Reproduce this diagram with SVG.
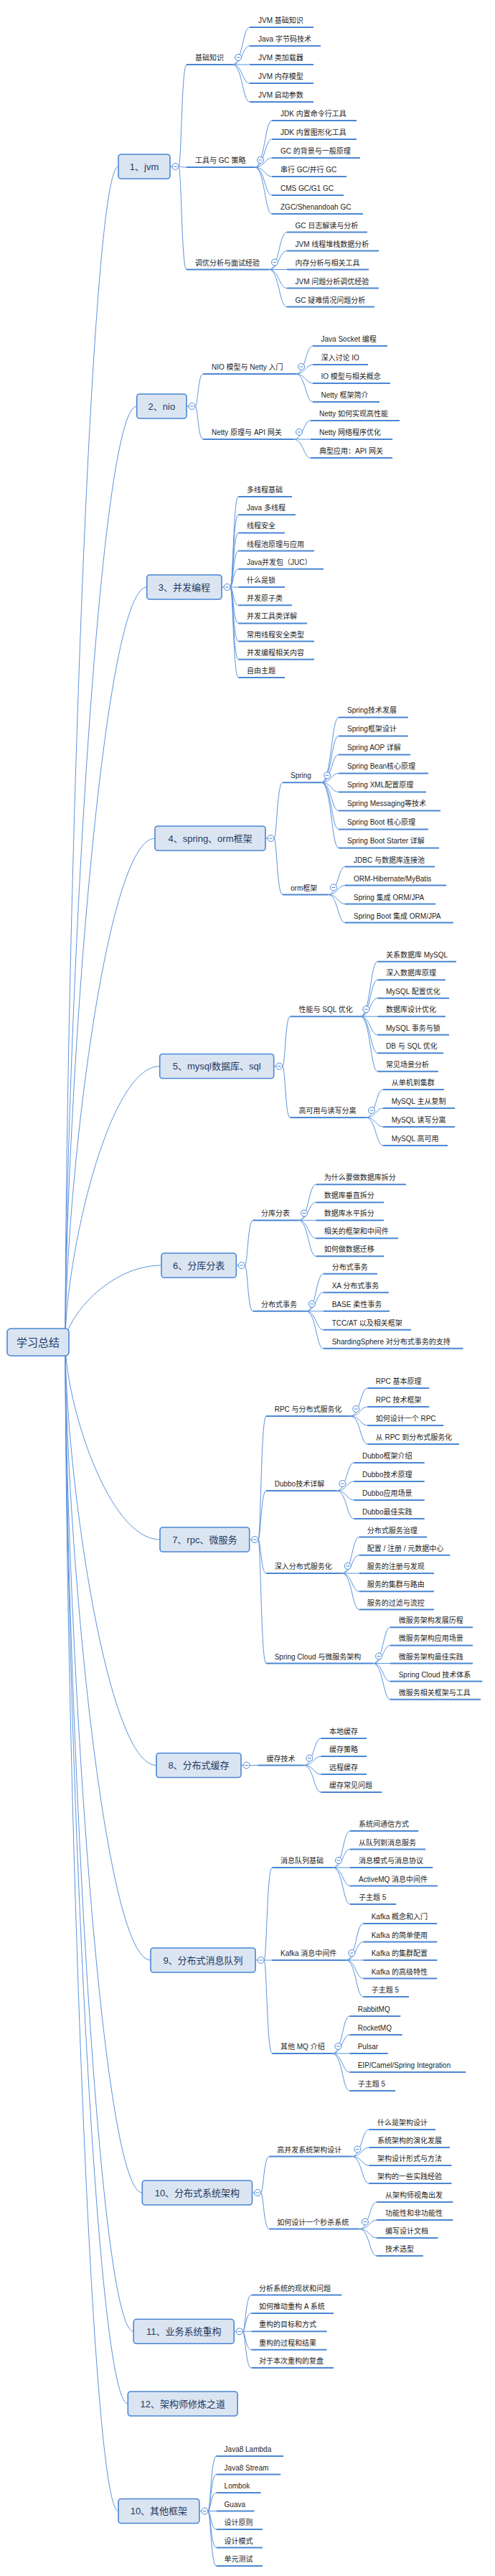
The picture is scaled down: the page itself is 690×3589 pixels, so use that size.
<svg xmlns="http://www.w3.org/2000/svg" xmlns:xlink="http://www.w3.org/1999/xlink" width="690" height="3589" viewBox="0 0 690 3589">
<style>
.c{fill:none;stroke:#5b93dc;stroke-width:1}
.u{fill:none;stroke:#4a86d4;stroke-width:2}
.t{font-family:"Liberation Sans","Noto Sans CJK SC",sans-serif;font-size:10px;fill:#1e1e1e}
.m rect{fill:#dbe5f2;stroke:#4a86d4;stroke-width:1.6}
.m text{font-family:"Liberation Sans","Noto Sans CJK SC",sans-serif;font-size:13px;fill:#1f3961;text-anchor:middle}
.r rect{fill:#dbe5f2;stroke:#4a86d4;stroke-width:1.6}
.r text{font-family:"Liberation Sans","Noto Sans CJK SC",sans-serif;font-size:15px;fill:#1f3961;text-anchor:middle}
</style>
<defs>
<g id="cm"><circle r="4.5" fill="#fff" stroke="#4a86d4" stroke-width="1"/><path d="M-2.4 0H2.4" stroke="#4a86d4" stroke-width="1"/></g>
</defs>
<rect width="690" height="3589" fill="#fff"/>
<g id="connectors" class="c">
<path d="M91 1870C91 1378.6 124.3 232 165 232M91 1870C91 1478.8 135.9 566 190.7 566M91 1870C91 1554.4 142.2 818 204.7 818M91 1870C91 1659.4 147.3 1168 216 1168M91 1870C91 1754.7 150.3 1485.5 222.7 1485.5M91 1870C91 1837.9 151.3 1763 225 1763M91 1870C91 1952.5 150.4 2145 223 2145M91 1870C91 2046.9 148.2 2459.5 218 2459.5M91 1870C91 2128.3 144.6 2731 210 2731M91 1870C91 2225.5 139.3 3055 198.3 3055M91 1870C91 2283.5 133.8 3248.3 186.2 3248.3M91 1870C91 2313.7 130.3 3349 178.3 3349M91 1870C91 2358.6 124.3 3498.5 165 3498.5"/>
<path d="M237 232H240M249 232C253 232 253 90 260 90M249 232C253 232 253 233 260 233M249 232C253 232 253 375.5 260 375.5"/>
<path d="M324 90C338 90 338 38 348 38M324 90C338 90 338 64 348 64M324 90H348M324 90C338 90 338 116 348 116M324 90C338 90 338 142 348 142"/>
<path d="M355 233C369 233 369 168 379 168M355 233C369 233 369 194 379 194M355 233C369 233 369 220 379 220M355 233C369 233 369 246 379 246M355 233C369 233 369 272 379 272M355 233C369 233 369 298 379 298"/>
<path d="M375 375.5C389 375.5 389 323.5 400 323.5M375 375.5C389 375.5 389 349.5 400 349.5M375 375.5H400M375 375.5C389 375.5 389 401.5 400 401.5M375 375.5C389 375.5 389 427.5 400 427.5"/>
<path d="M260 566H263M272 566C276 566 276 521 283 521M272 566C276 566 276 612 283 612"/>
<path d="M412 521C426 521 426 482 436 482M412 521C426 521 426 508 436 508M412 521C426 521 426 534 436 534M412 521C426 521 426 560 436 560"/>
<path d="M409 612C423 612 423 586 433 586M409 612H433M409 612C423 612 423 638 433 638"/>
<path d="M309 818H312M321 818C325 818 325 692 332.3 692M321 818C325 818 325 717.2 332.3 717.2M321 818C325 818 325 742.4 332.3 742.4M321 818C325 818 325 767.6 332.3 767.6M321 818C325 818 325 792.8 332.3 792.8M321 818H332.3M321 818C325 818 325 843.2 332.3 843.2M321 818C325 818 325 868.4 332.3 868.4M321 818C325 818 325 893.6 332.3 893.6M321 818C325 818 325 918.8 332.3 918.8M321 818C325 818 325 944 332.3 944"/>
<path d="M370 1168H373M382 1168C386 1168 386 1090.3 394 1090.3M382 1168C386 1168 386 1246.5 394 1246.5"/>
<path d="M448 1090.3C462 1090.3 462 999.4 472 999.4M448 1090.3C462 1090.3 462 1025.4 472 1025.4M448 1090.3C462 1090.3 462 1051.4 472 1051.4M448 1090.3C462 1090.3 462 1077.4 472 1077.4M448 1090.3C462 1090.3 462 1103.4 472 1103.4M448 1090.3C462 1090.3 462 1129.4 472 1129.4M448 1090.3C462 1090.3 462 1155.4 472 1155.4M448 1090.3C462 1090.3 462 1181.4 472 1181.4"/>
<path d="M457 1246.5C471 1246.5 471 1207.5 481 1207.5M457 1246.5C471 1246.5 471 1233.5 481 1233.5M457 1246.5C471 1246.5 471 1259.5 481 1259.5M457 1246.5C471 1246.5 471 1285.5 481 1285.5"/>
<path d="M381.7 1485.5H384.7M393.7 1485.5C397.7 1485.5 397.7 1416.2 404.3 1416.2M393.7 1485.5C397.7 1485.5 397.7 1557 404.3 1557"/>
<path d="M502.3 1416.2C516.3 1416.2 516.3 1339.7 526.3 1339.7M502.3 1416.2C516.3 1416.2 516.3 1365.2 526.3 1365.2M502.3 1416.2C516.3 1416.2 516.3 1390.7 526.3 1390.7M502.3 1416.2H526.3M502.3 1416.2C516.3 1416.2 516.3 1441.7 526.3 1441.7M502.3 1416.2C516.3 1416.2 516.3 1467.2 526.3 1467.2M502.3 1416.2C516.3 1416.2 516.3 1492.7 526.3 1492.7"/>
<path d="M510 1557C524 1557 524 1518 534 1518M510 1557C524 1557 524 1544 534 1544M510 1557C524 1557 524 1570 534 1570M510 1557C524 1557 524 1596 534 1596"/>
<path d="M329.3 1763H332.3M341.3 1763C345.3 1763 345.3 1700.3 352.5 1700.3M341.3 1763C345.3 1763 345.3 1826.8 352.5 1826.8"/>
<path d="M416 1700.3C430 1700.3 430 1650.3 440.5 1650.3M416 1700.3C430 1700.3 430 1675.3 440.5 1675.3M416 1700.3H440.5M416 1700.3C430 1700.3 430 1725.3 440.5 1725.3M416 1700.3C430 1700.3 430 1750.3 440.5 1750.3"/>
<path d="M426.7 1826.8C440.7 1826.8 440.7 1774.8 450.7 1774.8M426.7 1826.8C440.7 1826.8 440.7 1800.8 450.7 1800.8M426.7 1826.8H450.7M426.7 1826.8C440.7 1826.8 440.7 1852.8 450.7 1852.8M426.7 1826.8C440.7 1826.8 440.7 1878.8 450.7 1878.8"/>
<path d="M347.7 2145H350.7M359.7 2145C363.7 2145 363.7 1973 371 1973M359.7 2145C363.7 2145 363.7 2077 371 2077M359.7 2145C363.7 2145 363.7 2192 371 2192M359.7 2145C363.7 2145 363.7 2317.5 371 2317.5"/>
<path d="M488.3 1973C502.3 1973 502.3 1934 512.3 1934M488.3 1973C502.3 1973 502.3 1960 512.3 1960M488.3 1973C502.3 1973 502.3 1986 512.3 1986M488.3 1973C502.3 1973 502.3 2012 512.3 2012"/>
<path d="M469.3 2077C483.3 2077 483.3 2038 493.3 2038M469.3 2077C483.3 2077 483.3 2064 493.3 2064M469.3 2077C483.3 2077 483.3 2090 493.3 2090M469.3 2077C483.3 2077 483.3 2116 493.3 2116"/>
<path d="M476.7 2192C490.7 2192 490.7 2141.5 500.7 2141.5M476.7 2192C490.7 2192 490.7 2166.8 500.7 2166.8M476.7 2192H500.7M476.7 2192C490.7 2192 490.7 2217.3 500.7 2217.3M476.7 2192C490.7 2192 490.7 2242.5 500.7 2242.5"/>
<path d="M520 2317.5C534 2317.5 534 2267.3 544 2267.3M520 2317.5C534 2317.5 534 2292.4 544 2292.4M520 2317.5H544M520 2317.5C534 2317.5 534 2342.6 544 2342.6M520 2317.5C534 2317.5 534 2367.7 544 2367.7"/>
<path d="M336 2459.5H360"/>
<path d="M423.3 2459.5C437.3 2459.5 437.3 2422 447.3 2422M423.3 2459.5C437.3 2459.5 437.3 2447 447.3 2447M423.3 2459.5C437.3 2459.5 437.3 2472 447.3 2472M423.3 2459.5C437.3 2459.5 437.3 2497 447.3 2497"/>
<path d="M356 2731H359M368 2731C372 2731 372 2602 379.3 2602M368 2731H379.3M368 2731C372 2731 372 2861 379.3 2861"/>
<path d="M464 2602C478 2602 478 2551 488 2551M464 2602C478 2602 478 2576.5 488 2576.5M464 2602H488M464 2602C478 2602 478 2627.5 488 2627.5M464 2602C478 2602 478 2653 488 2653"/>
<path d="M482.3 2731C496.3 2731 496.3 2680 506.3 2680M482.3 2731C496.3 2731 496.3 2705.5 506.3 2705.5M482.3 2731H506.3M482.3 2731C496.3 2731 496.3 2756.5 506.3 2756.5M482.3 2731C496.3 2731 496.3 2782 506.3 2782"/>
<path d="M463.3 2861C477.3 2861 477.3 2809 487.3 2809M463.3 2861C477.3 2861 477.3 2835 487.3 2835M463.3 2861H487.3M463.3 2861C477.3 2861 477.3 2887 487.3 2887M463.3 2861C477.3 2861 477.3 2913 487.3 2913"/>
<path d="M351.5 3055H354.5M363.5 3055C367.5 3055 367.5 3004.5 375.3 3004.5M363.5 3055C367.5 3055 367.5 3105.5 375.3 3105.5"/>
<path d="M490.3 3004.5C504.3 3004.5 504.3 2967 514.3 2967M490.3 3004.5C504.3 3004.5 504.3 2992 514.3 2992M490.3 3004.5C504.3 3004.5 504.3 3017 514.3 3017M490.3 3004.5C504.3 3004.5 504.3 3042 514.3 3042"/>
<path d="M500.9 3105.5C515 3105.5 515 3068 525 3068M500.9 3105.5C515 3105.5 515 3093 525 3093M500.9 3105.5C515 3105.5 515 3118 525 3118M500.9 3105.5C515 3105.5 515 3143 525 3143"/>
<path d="M326.2 3248.3H329.2M338.2 3248.3C342.2 3248.3 342.2 3197.5 350.4 3197.5M338.2 3248.3C342.2 3248.3 342.2 3222.9 350.4 3222.9M338.2 3248.3H350.4M338.2 3248.3C342.2 3248.3 342.2 3273.7 350.4 3273.7M338.2 3248.3C342.2 3248.3 342.2 3299.1 350.4 3299.1"/>
<path d="M277.8 3498.5H280.8M289.8 3498.5C293.8 3498.5 293.8 3422 301.6 3422M289.8 3498.5C293.8 3498.5 293.8 3447.5 301.6 3447.5M289.8 3498.5C293.8 3498.5 293.8 3473 301.6 3473M289.8 3498.5H301.6M289.8 3498.5C293.8 3498.5 293.8 3524 301.6 3524M289.8 3498.5C293.8 3498.5 293.8 3549.5 301.6 3549.5M289.8 3498.5C293.8 3498.5 293.8 3575 301.6 3575"/>
</g>

<g id="root" class="r"><rect x="10" y="1851" width="86" height="38" rx="5"/><text x="53" y="1875.5">学习总结</text></g>

<!-- Branch 1 -->
<g id="n1" class="m"><rect x="165" y="215" width="72" height="34" rx="4"/><text x="201" y="236.5">1、jvm</text><use href="#cm" x="244.5" y="232"/></g>
<g id="n1-1"><path class="u" d="M260 90H324"/><text class="t" x="272" y="84">基础知识</text><use href="#cm" x="332" y="80"/></g>
<g id="n1-1-1"><path class="u" d="M348 38H437"/><text class="t" x="360" y="32">JVM 基础知识</text></g>
<g id="n1-1-2"><path class="u" d="M348 64H447"/><text class="t" x="360" y="58">Java 字节码技术</text></g>
<g id="n1-1-3"><path class="u" d="M348 90H437"/><text class="t" x="360" y="84">JVM 类加载器</text></g>
<g id="n1-1-4"><path class="u" d="M348 116H437"/><text class="t" x="360" y="110">JVM 内存模型</text></g>
<g id="n1-1-5"><path class="u" d="M348 142H437"/><text class="t" x="360" y="136">JVM 启动参数</text></g>
<g id="n1-2"><path class="u" d="M260 233H355"/><text class="t" x="272" y="227">工具与 GC 策略</text><use href="#cm" x="363" y="223"/></g>
<g id="n1-2-1"><path class="u" d="M379 168H497"/><text class="t" x="391" y="162">JDK 内置命令行工具</text></g>
<g id="n1-2-2"><path class="u" d="M379 194H497"/><text class="t" x="391" y="188">JDK 内置图形化工具</text></g>
<g id="n1-2-3"><path class="u" d="M379 220H502"/><text class="t" x="391" y="214">GC 的背景与一般原理</text></g>
<g id="n1-2-4"><path class="u" d="M379 246H483"/><text class="t" x="391" y="240">串行 GC/并行 GC</text></g>
<g id="n1-2-5"><path class="u" d="M379 272H479"/><text class="t" x="391" y="266">CMS GC/G1 GC</text></g>
<g id="n1-2-6"><path class="u" d="M379 298H506"/><text class="t" x="391" y="292">ZGC/Shenandoah GC</text></g>
<g id="n1-3"><path class="u" d="M260 375.5H375"/><text class="t" x="272" y="369.5">调优分析与面试经验</text><use href="#cm" x="383" y="365.5"/></g>
<g id="n1-3-1"><path class="u" d="M400 323.5H512"/><text class="t" x="411.5" y="317.5">GC 日志解读与分析</text></g>
<g id="n1-3-2"><path class="u" d="M400 349.5H528"/><text class="t" x="411.5" y="343.5">JVM 线程堆栈数据分析</text></g>
<g id="n1-3-3"><path class="u" d="M400 375.5H514"/><text class="t" x="411.5" y="369.5">内存分析与相关工具</text></g>
<g id="n1-3-4"><path class="u" d="M400 401.5H528"/><text class="t" x="411.5" y="395.5">JVM 问题分析调优经验</text></g>
<g id="n1-3-5"><path class="u" d="M400 427.5H522"/><text class="t" x="411.5" y="421.5">GC 疑难情况问题分析</text></g>

<!-- Branch 2 -->
<g id="n2" class="m"><rect x="190.7" y="549" width="69.3" height="34" rx="4"/><text x="225.4" y="570.5">2、nio</text><use href="#cm" x="267.5" y="566"/></g>
<g id="n2-1"><path class="u" d="M283 521H412"/><text class="t" x="295" y="515">NIO 模型与 Netty 入门</text><use href="#cm" x="420" y="511"/></g>
<g id="n2-1-1"><path class="u" d="M436 482H540"/><text class="t" x="447.5" y="476">Java Socket 编程</text></g>
<g id="n2-1-2"><path class="u" d="M436 508H513"/><text class="t" x="447.5" y="502">深入讨论 IO</text></g>
<g id="n2-1-3"><path class="u" d="M436 534H544"/><text class="t" x="447.5" y="528">IO 模型与相关概念</text></g>
<g id="n2-1-4"><path class="u" d="M436 560H529"/><text class="t" x="447.5" y="554">Netty 框架简介</text></g>
<g id="n2-2"><path class="u" d="M283 612H409"/><text class="t" x="295" y="606">Netty 原理与 API 网关</text><use href="#cm" x="417" y="602"/></g>
<g id="n2-2-1"><path class="u" d="M433 586H557"/><text class="t" x="445" y="580">Netty 如何实现高性能</text></g>
<g id="n2-2-2"><path class="u" d="M433 612H547"/><text class="t" x="445" y="606">Netty 网络程序优化</text></g>
<g id="n2-2-3"><path class="u" d="M433 638H547"/><text class="t" x="445" y="632">典型应用：API 网关</text></g>

<!-- Branch 3 -->
<g id="n3" class="m"><rect x="204.7" y="801" width="104.3" height="34" rx="4"/><text x="256.9" y="822.5">3、并发编程</text><use href="#cm" x="316.5" y="818"/></g>
<g id="n3-1"><path class="u" d="M332.3 692H407"/><text class="t" x="344" y="686">多线程基础</text></g>
<g id="n3-2"><path class="u" d="M332.3 717.2H412"/><text class="t" x="344" y="711.2">Java 多线程</text></g>
<g id="n3-3"><path class="u" d="M332.3 742.4H397"/><text class="t" x="344" y="736.4">线程安全</text></g>
<g id="n3-4"><path class="u" d="M332.3 767.6H438"/><text class="t" x="344" y="761.6">线程池原理与应用</text></g>
<g id="n3-5"><path class="u" d="M332.3 792.8H451"/><text class="t" x="344" y="786.8">Java并发包（JUC）</text></g>
<g id="n3-6"><path class="u" d="M332.3 818H397"/><text class="t" x="344" y="812">什么是锁</text></g>
<g id="n3-7"><path class="u" d="M332.3 843.2H407"/><text class="t" x="344" y="837.2">并发原子类</text></g>
<g id="n3-8"><path class="u" d="M332.3 868.4H428"/><text class="t" x="344" y="862.4">并发工具类详解</text></g>
<g id="n3-9"><path class="u" d="M332.3 893.6H438"/><text class="t" x="344" y="887.6">常用线程安全类型</text></g>
<g id="n3-10"><path class="u" d="M332.3 918.8H438"/><text class="t" x="344" y="912.8">并发编程相关内容</text></g>
<g id="n3-11"><path class="u" d="M332.3 944H397"/><text class="t" x="344" y="938">自由主题</text></g>

<!-- Branch 4 -->
<g id="n4" class="m"><rect x="216" y="1151" width="154" height="34" rx="4"/><text x="293" y="1172.5">4、spring、orm框架</text><use href="#cm" x="377.5" y="1168"/></g>
<g id="n4-1"><path class="u" d="M394 1090.3H448"/><text class="t" x="405" y="1084.3">Spring</text><use href="#cm" x="456" y="1080.3"/></g>
<g id="n4-1-1"><path class="u" d="M472 999.4H569"/><text class="t" x="484" y="993.4">Spring技术发展</text></g>
<g id="n4-1-2"><path class="u" d="M472 1025.4H569"/><text class="t" x="484" y="1019.4">Spring框架设计</text></g>
<g id="n4-1-3"><path class="u" d="M472 1051.4H572"/><text class="t" x="484" y="1045.4">Spring AOP 详解</text></g>
<g id="n4-1-4"><path class="u" d="M472 1077.4H597"/><text class="t" x="484" y="1071.4">Spring Bean核心原理</text></g>
<g id="n4-1-5"><path class="u" d="M472 1103.4H594"/><text class="t" x="484" y="1097.4">Spring XML配置原理</text></g>
<g id="n4-1-6"><path class="u" d="M472 1129.4H614"/><text class="t" x="484" y="1123.4">Spring Messaging等技术</text></g>
<g id="n4-1-7"><path class="u" d="M472 1155.4H597"/><text class="t" x="484" y="1149.4">Spring Boot 核心原理</text></g>
<g id="n4-1-8"><path class="u" d="M472 1181.4H612"/><text class="t" x="484" y="1175.4">Spring Boot Starter 详解</text></g>
<g id="n4-2"><path class="u" d="M394 1246.5H457"/><text class="t" x="405" y="1240.5">orm框架</text><use href="#cm" x="465" y="1236.5"/></g>
<g id="n4-2-1"><path class="u" d="M481 1207.5H606"/><text class="t" x="493" y="1201.5">JDBC 与数据库连接池</text></g>
<g id="n4-2-2"><path class="u" d="M481 1233.5H622"/><text class="t" x="493" y="1227.5">ORM-Hibernate/MyBatis</text></g>
<g id="n4-2-3"><path class="u" d="M481 1259.5H607"/><text class="t" x="493" y="1253.5">Spring 集成 ORM/JPA</text></g>
<g id="n4-2-4"><path class="u" d="M481 1285.5H632"/><text class="t" x="493" y="1279.5">Spring Boot 集成 ORM/JPA</text></g>

<!-- Branch 5 -->
<g id="n5" class="m"><rect x="222.7" y="1468.5" width="159" height="34" rx="4"/><text x="302.2" y="1490">5、mysql数据库、sql</text><use href="#cm" x="389.2" y="1485.5"/></g>
<g id="n5-1"><path class="u" d="M404.3 1416.2H502.3"/><text class="t" x="416.5" y="1410.2">性能与 SQL 优化</text><use href="#cm" x="510.3" y="1406.2"/></g>
<g id="n5-1-1"><path class="u" d="M526.3 1339.7H636"/><text class="t" x="538" y="1333.7">关系数据库 MySQL</text></g>
<g id="n5-1-2"><path class="u" d="M526.3 1365.2H621"/><text class="t" x="538" y="1359.2">深入数据库原理</text></g>
<g id="n5-1-3"><path class="u" d="M526.3 1390.7H626"/><text class="t" x="538" y="1384.7">MySQL 配置优化</text></g>
<g id="n5-1-4"><path class="u" d="M526.3 1416.2H621"/><text class="t" x="538" y="1410.2">数据库设计优化</text></g>
<g id="n5-1-5"><path class="u" d="M526.3 1441.7H626"/><text class="t" x="538" y="1435.7">MySQL 事务与锁</text></g>
<g id="n5-1-6"><path class="u" d="M526.3 1467.2H618"/><text class="t" x="538" y="1461.2">DB 与 SQL 优化</text></g>
<g id="n5-1-7"><path class="u" d="M526.3 1492.7H611"/><text class="t" x="538" y="1486.7">常见场景分析</text></g>
<g id="n5-2"><path class="u" d="M404.3 1557H510"/><text class="t" x="416.5" y="1551">高可用与读写分离</text><use href="#cm" x="518" y="1547"/></g>
<g id="n5-2-1"><path class="u" d="M534 1518H619"/><text class="t" x="545.7" y="1512">从单机到集群</text></g>
<g id="n5-2-2"><path class="u" d="M534 1544H634"/><text class="t" x="545.7" y="1538">MySQL 主从复制</text></g>
<g id="n5-2-3"><path class="u" d="M534 1570H634"/><text class="t" x="545.7" y="1564">MySQL 读写分离</text></g>
<g id="n5-2-4"><path class="u" d="M534 1596H624"/><text class="t" x="545.7" y="1590">MySQL 高可用</text></g>

<!-- Branch 6 -->
<g id="n6" class="m"><rect x="225" y="1746" width="104.3" height="34" rx="4"/><text x="277.2" y="1767.5">6、分库分表</text><use href="#cm" x="336.8" y="1763"/></g>
<g id="n6-1"><path class="u" d="M352.5 1700.3H416"/><text class="t" x="364" y="1694.3">分库分表</text><use href="#cm" x="424" y="1690.3"/></g>
<g id="n6-1-1"><path class="u" d="M440.5 1650.3H566"/><text class="t" x="451.7" y="1644.3">为什么要做数据库拆分</text></g>
<g id="n6-1-2"><path class="u" d="M440.5 1675.3H535"/><text class="t" x="451.7" y="1669.3">数据库垂直拆分</text></g>
<g id="n6-1-3"><path class="u" d="M440.5 1700.3H535"/><text class="t" x="451.7" y="1694.3">数据库水平拆分</text></g>
<g id="n6-1-4"><path class="u" d="M440.5 1725.3H555"/><text class="t" x="451.7" y="1719.3">相关的框架和中间件</text></g>
<g id="n6-1-5"><path class="u" d="M440.5 1750.3H535"/><text class="t" x="451.7" y="1744.3">如何做数据迁移</text></g>
<g id="n6-2"><path class="u" d="M352.5 1826.8H426.7"/><text class="t" x="364" y="1820.8">分布式事务</text><use href="#cm" x="434.7" y="1816.8"/></g>
<g id="n6-2-1"><path class="u" d="M450.7 1774.8H526"/><text class="t" x="462.7" y="1768.8">分布式事务</text></g>
<g id="n6-2-2"><path class="u" d="M450.7 1800.8H541.7"/><text class="t" x="462.7" y="1794.8">XA 分布式事务</text></g>
<g id="n6-2-3"><path class="u" d="M450.7 1826.8H543"/><text class="t" x="462.7" y="1820.8">BASE 柔性事务</text></g>
<g id="n6-2-4"><path class="u" d="M450.7 1852.8H573"/><text class="t" x="462.7" y="1846.8">TCC/AT 以及相关框架</text></g>
<g id="n6-2-5"><path class="u" d="M450.7 1878.8H645.7"/><text class="t" x="462.7" y="1872.8">ShardingSphere 对分布式事务的支持</text></g>

<!-- Branch 7 -->
<g id="n7" class="m"><rect x="223" y="2128" width="124.7" height="34" rx="4"/><text x="285.3" y="2149.5">7、rpc、微服务</text><use href="#cm" x="355.2" y="2145"/></g>
<g id="n7-1"><path class="u" d="M371 1973H488.3"/><text class="t" x="382.7" y="1967">RPC 与分布式服务化</text><use href="#cm" x="496.3" y="1963"/></g>
<g id="n7-1-1"><path class="u" d="M512.3 1934H598.3"/><text class="t" x="523.7" y="1928">RPC 基本原理</text></g>
<g id="n7-1-2"><path class="u" d="M512.3 1960H598.3"/><text class="t" x="523.7" y="1954">RPC 技术框架</text></g>
<g id="n7-1-3"><path class="u" d="M512.3 1986H618.3"/><text class="t" x="523.7" y="1980">如何设计一个 RPC</text></g>
<g id="n7-1-4"><path class="u" d="M512.3 2012H640"/><text class="t" x="523.7" y="2006">从 RPC 到分布式服务化</text></g>
<g id="n7-2"><path class="u" d="M371 2077H469.3"/><text class="t" x="382.7" y="2071">Dubbo技术详解</text><use href="#cm" x="477.3" y="2067"/></g>
<g id="n7-2-1"><path class="u" d="M493.3 2038H591.7"/><text class="t" x="505" y="2032">Dubbo框架介绍</text></g>
<g id="n7-2-2"><path class="u" d="M493.3 2064H591.7"/><text class="t" x="505" y="2058">Dubbo技术原理</text></g>
<g id="n7-2-3"><path class="u" d="M493.3 2090H591.7"/><text class="t" x="505" y="2084">Dubbo应用场景</text></g>
<g id="n7-2-4"><path class="u" d="M493.3 2116H591.7"/><text class="t" x="505" y="2110">Dubbo最佳实践</text></g>
<g id="n7-3"><path class="u" d="M371 2192H476.7"/><text class="t" x="382.7" y="2186">深入分布式服务化</text><use href="#cm" x="484.7" y="2182"/></g>
<g id="n7-3-1"><path class="u" d="M500.7 2141.5H595"/><text class="t" x="511.7" y="2135.5">分布式服务治理</text></g>
<g id="n7-3-2"><path class="u" d="M500.7 2166.8H627.3"/><text class="t" x="511.7" y="2160.8">配置 / 注册 / 元数据中心</text></g>
<g id="n7-3-3"><path class="u" d="M500.7 2192H605"/><text class="t" x="511.7" y="2186">服务的注册与发现</text></g>
<g id="n7-3-4"><path class="u" d="M500.7 2217.3H605"/><text class="t" x="511.7" y="2211.3">服务的集群与路由</text></g>
<g id="n7-3-5"><path class="u" d="M500.7 2242.5H605"/><text class="t" x="511.7" y="2236.5">服务的过滤与流控</text></g>
<g id="n7-4"><path class="u" d="M371 2317.5H520"/><text class="t" x="382.7" y="2311.5">Spring Cloud 与微服务架构</text><use href="#cm" x="528" y="2307.5"/></g>
<g id="n7-4-1"><path class="u" d="M544 2267.3H659"/><text class="t" x="555.7" y="2261.3">微服务架构发展历程</text></g>
<g id="n7-4-2"><path class="u" d="M544 2292.4H659"/><text class="t" x="555.7" y="2286.4">微服务架构应用场景</text></g>
<g id="n7-4-3"><path class="u" d="M544 2317.5H659"/><text class="t" x="555.7" y="2311.5">微服务架构最佳实践</text></g>
<g id="n7-4-4"><path class="u" d="M544 2342.6H672.3"/><text class="t" x="555.7" y="2336.6">Spring Cloud 技术体系</text></g>
<g id="n7-4-5"><path class="u" d="M544 2367.7H670"/><text class="t" x="555.7" y="2361.7">微服务相关框架与工具</text></g>

<!-- Branch 8 -->
<g id="n8" class="m"><rect x="218" y="2442.5" width="118" height="34" rx="4"/><text x="277" y="2464">8、分布式缓存</text><use href="#cm" x="343.5" y="2459.5"/></g>
<g id="n8-1"><path class="u" d="M360 2459.5H423.3"/><text class="t" x="371.5" y="2453.5">缓存技术</text><use href="#cm" x="431.3" y="2449.5"/></g>
<g id="n8-1-1"><path class="u" d="M447.3 2422H511"/><text class="t" x="459" y="2416">本地缓存</text></g>
<g id="n8-1-2"><path class="u" d="M447.3 2447H511"/><text class="t" x="459" y="2441">缓存策略</text></g>
<g id="n8-1-3"><path class="u" d="M447.3 2472H511"/><text class="t" x="459" y="2466">远程缓存</text></g>
<g id="n8-1-4"><path class="u" d="M447.3 2497H532.3"/><text class="t" x="459" y="2491">缓存常见问题</text></g>

<!-- Branch 9 -->
<g id="n9" class="m"><rect x="210" y="2714" width="146" height="34" rx="4"/><text x="283" y="2735.5">9、分布式消息队列</text><use href="#cm" x="363.5" y="2731"/></g>
<g id="n9-1"><path class="u" d="M379.3 2602H464"/><text class="t" x="391" y="2596">消息队列基础</text><use href="#cm" x="472" y="2592"/></g>
<g id="n9-1-1"><path class="u" d="M488 2551H583.3"/><text class="t" x="500" y="2545">系统间通信方式</text></g>
<g id="n9-1-2"><path class="u" d="M488 2576.5H593.3"/><text class="t" x="500" y="2570.5">从队列到消息服务</text></g>
<g id="n9-1-3"><path class="u" d="M488 2602H603.3"/><text class="t" x="500" y="2596">消息模式与消息协议</text></g>
<g id="n9-1-4"><path class="u" d="M488 2627.5H610"/><text class="t" x="500" y="2621.5">ActiveMQ 消息中间件</text></g>
<g id="n9-1-5"><path class="u" d="M488 2653H552.3"/><text class="t" x="500" y="2647">子主题 5</text></g>
<g id="n9-2"><path class="u" d="M379.3 2731H482.3"/><text class="t" x="391" y="2725">Kafka 消息中间件</text><use href="#cm" x="490.3" y="2721"/></g>
<g id="n9-2-1"><path class="u" d="M506.3 2680H609.3"/><text class="t" x="517.7" y="2674">Kafka 概念和入门</text></g>
<g id="n9-2-2"><path class="u" d="M506.3 2705.5H609.3"/><text class="t" x="517.7" y="2699.5">Kafka 的简单使用</text></g>
<g id="n9-2-3"><path class="u" d="M506.3 2731H609.3"/><text class="t" x="517.7" y="2725">Kafka 的集群配置</text></g>
<g id="n9-2-4"><path class="u" d="M506.3 2756.5H609.3"/><text class="t" x="517.7" y="2750.5">Kafka 的高级特性</text></g>
<g id="n9-2-5"><path class="u" d="M506.3 2782H570"/><text class="t" x="517.7" y="2776">子主题 5</text></g>
<g id="n9-3"><path class="u" d="M379.3 2861H463.3"/><text class="t" x="391" y="2855">其他 MQ 介绍</text><use href="#cm" x="471.3" y="2851"/></g>
<g id="n9-3-1"><path class="u" d="M487.3 2809H558.3"/><text class="t" x="498.7" y="2803">RabbitMQ</text></g>
<g id="n9-3-2"><path class="u" d="M487.3 2835H560.7"/><text class="t" x="498.7" y="2829">RocketMQ</text></g>
<g id="n9-3-3"><path class="u" d="M487.3 2861H540.7"/><text class="t" x="498.7" y="2855">Pulsar</text></g>
<g id="n9-3-4"><path class="u" d="M487.3 2887H649.3"/><text class="t" x="498.7" y="2881">EIP/Camel/Spring Integration</text></g>
<g id="n9-3-5"><path class="u" d="M487.3 2913H551"/><text class="t" x="498.7" y="2907">子主题 5</text></g>

<!-- Branch 10 -->
<g id="n10" class="m"><rect x="198.3" y="3038" width="153.2" height="34" rx="4"/><text x="274.9" y="3059.5">10、分布式系统架构</text><use href="#cm" x="359" y="3055"/></g>
<g id="n10-1"><path class="u" d="M375.3 3004.5H490.3"/><text class="t" x="386.3" y="2998.5">高并发系统架构设计</text><use href="#cm" x="498.3" y="2994.5"/></g>
<g id="n10-1-1"><path class="u" d="M514.3 2967H607"/><text class="t" x="526" y="2961">什么是架构设计</text></g>
<g id="n10-1-2"><path class="u" d="M514.3 2992H627"/><text class="t" x="526" y="2986">系统架构的演化发展</text></g>
<g id="n10-1-3"><path class="u" d="M514.3 3017H629.5"/><text class="t" x="526" y="3011">架构设计形式与方法</text></g>
<g id="n10-1-4"><path class="u" d="M514.3 3042H629.5"/><text class="t" x="526" y="3036">架构的一些实践经验</text></g>
<g id="n10-2"><path class="u" d="M375.3 3105.5H500.9"/><text class="t" x="386.3" y="3099.5">如何设计一个秒杀系统</text><use href="#cm" x="508.9" y="3095.5"/></g>
<g id="n10-2-1"><path class="u" d="M525 3068H631.4"/><text class="t" x="537" y="3062">从架构师视角出发</text></g>
<g id="n10-2-2"><path class="u" d="M525 3093H631.4"/><text class="t" x="537" y="3087">功能性和非功能性</text></g>
<g id="n10-2-3"><path class="u" d="M525 3118H610.6"/><text class="t" x="537" y="3112">编写设计文档</text></g>
<g id="n10-2-4"><path class="u" d="M525 3143H589.8"/><text class="t" x="537" y="3137">技术选型</text></g>

<!-- Branch 11 -->
<g id="n11" class="m"><rect x="186.2" y="3231.3" width="140" height="34" rx="4"/><text x="256.2" y="3252.8">11、业务系统重构</text><use href="#cm" x="333.7" y="3248.3"/></g>
<g id="n11-1"><path class="u" d="M350.4 3197.5H476.3"/><text class="t" x="361" y="3191.5">分析系统的现状和问题</text></g>
<g id="n11-2"><path class="u" d="M350.4 3222.9H465"/><text class="t" x="361" y="3216.9">如何推动重构 A 系统</text></g>
<g id="n11-3"><path class="u" d="M350.4 3248.3H455.5"/><text class="t" x="361" y="3242.3">重构的目标和方式</text></g>
<g id="n11-4"><path class="u" d="M350.4 3273.7H455.5"/><text class="t" x="361" y="3267.7">重构的过程和结果</text></g>
<g id="n11-5"><path class="u" d="M350.4 3299.1H465"/><text class="t" x="361" y="3293.1">对于本次重构的复盘</text></g>

<!-- Branch 12 -->
<g id="n12" class="m"><rect x="178.3" y="3332" width="152.8" height="34" rx="4"/><text x="254.7" y="3353.5">12、架构师修炼之道</text></g>

<!-- Branch 13 -->
<g id="n13" class="m"><rect x="165" y="3481.5" width="112.8" height="34" rx="4"/><text x="221.4" y="3503">10、其他框架</text><use href="#cm" x="285.3" y="3498.5"/></g>
<g id="n13-1"><path class="u" d="M301.6 3422H395"/><text class="t" x="312.6" y="3416">Java8 Lambda</text></g>
<g id="n13-2"><path class="u" d="M301.6 3447.5H391.2"/><text class="t" x="312.6" y="3441.5">Java8 Stream</text></g>
<g id="n13-3"><path class="u" d="M301.6 3473H363.6"/><text class="t" x="312.6" y="3467">Lombok</text></g>
<g id="n13-4"><path class="u" d="M301.6 3498.5H354.5"/><text class="t" x="312.6" y="3492.5">Guava</text></g>
<g id="n13-5"><path class="u" d="M301.6 3524H365.9"/><text class="t" x="312.6" y="3518">设计原则</text></g>
<g id="n13-6"><path class="u" d="M301.6 3549.5H365.9"/><text class="t" x="312.6" y="3543.5">设计模式</text></g>
<g id="n13-7"><path class="u" d="M301.6 3575H365.9"/><text class="t" x="312.6" y="3569">单元测试</text></g>
</svg>
